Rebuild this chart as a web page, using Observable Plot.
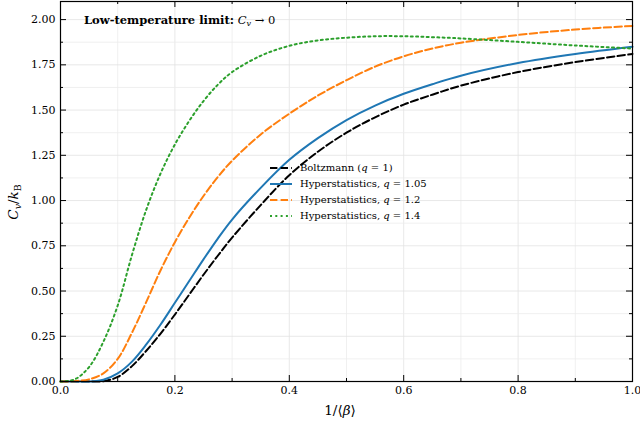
<!DOCTYPE html>
<html><head><meta charset="utf-8">
<script src="https://cdn.jsdelivr.net/npm/d3@7"></script>
<script src="https://cdn.jsdelivr.net/npm/@observablehq/plot@0.6"></script>
<style>
body{margin:0;background:#fff;}
#wrap{position:relative;width:640px;height:428px;font-family:"DejaVu Serif",serif;color:#000;}
#wrap svg text{font-family:"DejaVu Serif",serif;}
.ov{position:absolute;white-space:nowrap;line-height:1;}
#title{left:84px;top:15px;font-size:11.5px;}
#title b{font-weight:bold;}
#ylab{left:14px;top:202px;font-size:13.5px;transform:translate(-50%,-50%) rotate(-90deg);}
#xlab{left:340px;top:411px;font-size:13.5px;transform:translate(-50%,-50%);}
#legend{left:268px;top:160px;font-size:10px;}
.row{display:flex;align-items:center;height:16px;}
.row svg{margin-right:7px;}
sub{font-size:70%;vertical-align:-0.25em;line-height:0;}
</style></head><body><div id="wrap"></div>
<script>
// temperature grid 1/<beta>
const xs = [0, 0.025, 0.05, 0.075, 0.1, 0.125, 0.15, 0.175, 0.2, 0.225, 0.25, 0.275, 0.3, 0.35, 0.4, 0.45, 0.5, 0.55, 0.6, 0.65, 0.7, 0.8, 0.9, 1.0];
const boltzmann = [0, 0, 0, 0.002, 0.025, 0.085, 0.17, 0.265, 0.37, 0.48, 0.59, 0.695, 0.795, 0.975, 1.14, 1.27, 1.375, 1.46, 1.53, 1.585, 1.635, 1.71, 1.765, 1.81];
const hyper105  = [0, 0, 0, 0.01, 0.045, 0.11, 0.205, 0.315, 0.435, 0.555, 0.675, 0.79, 0.895, 1.07, 1.225, 1.345, 1.445, 1.525, 1.59, 1.643, 1.69, 1.76, 1.81, 1.85];
const hyper12   = [0, 0.002, 0.012, 0.045, 0.125, 0.27, 0.44, 0.615, 0.77, 0.905, 1.025, 1.13, 1.22, 1.365, 1.48, 1.58, 1.665, 1.74, 1.797, 1.84, 1.872, 1.915, 1.945, 1.965];
const hyper14   = [0, 0.012, 0.08, 0.22, 0.42, 0.70, 0.95, 1.15, 1.31, 1.44, 1.55, 1.64, 1.71, 1.80, 1.855, 1.885, 1.90, 1.908, 1.908, 1.903, 1.896, 1.877, 1.857, 1.84];

const seriesNames = ["Boltzmann (q = 1)", "Hyperstatistics, q = 1.05", "Hyperstatistics, q = 1.2", "Hyperstatistics, q = 1.4"];
const seriesValues = [boltzmann, hyper105, hyper12, hyper14];
const seriesColors = ["#000000", "#1f77b4", "#ff7f0e", "#2ca02c"];
const seriesDash = ["7.4,3.2", null, "7.4,3.2", "2,3.3"];

const xMajor = [0, 0.2, 0.4, 0.6, 0.8, 1.0];
const xMinor = [0.1, 0.3, 0.5, 0.7, 0.9];
const yMajor = [0, 0.25, 0.5, 0.75, 1.0, 1.25, 1.5, 1.75, 2.0];
const yMinor = [0.125, 0.375, 0.625, 0.875, 1.125, 1.375, 1.625, 1.875];

const W = 640, H = 428, mL = 60, mR = 8, mT = 1, mB = 47;
const pw = W - mL - mR, ph = H - mT - mB;
const serif = '"DejaVu Serif", serif';

const lineMarks = seriesValues.map((vals, i) => {
  const rows = xs.map((x, j) => ({x, y: vals[j]}));
  return Plot.line(rows, {x: "x", y: "y", stroke: seriesColors[i], strokeWidth: 2,
    strokeDasharray: seriesDash[i] || undefined, curve: "catmull-rom"});
});
const chart = Plot.plot({
  width: W, height: H, marginLeft: mL, marginRight: mR, marginTop: mT, marginBottom: mB,
  style: {fontFamily: serif, fontSize: "11px", background: "white", color: "black"},
  x: {domain: [0, 1]},
  y: {domain: [0, 2.1]},
  marks: [
    Plot.ruleX(xMinor, {x: d => d, stroke: "#ececec", strokeWidth: 0.8}),
    Plot.ruleX(xMajor, {x: d => d, stroke: "#e2e2e2", strokeWidth: 0.8}),
    Plot.ruleY(yMinor, {y: d => d, stroke: "#ececec", strokeWidth: 0.8}),
    Plot.ruleY(yMajor, {y: d => d, stroke: "#e2e2e2", strokeWidth: 0.8}),
    ...lineMarks,
    Plot.tickX(xMajor, {x: d => d, insetTop: ph - 6, stroke: "black"}),
    Plot.tickX(xMajor, {x: d => d, insetBottom: ph - 6, stroke: "black"}),
    Plot.tickX(xMinor, {x: d => d, insetTop: ph - 3, stroke: "black"}),
    Plot.tickX(xMinor, {x: d => d, insetBottom: ph - 3, stroke: "black"}),
    Plot.tickY(yMajor, {y: d => d, insetRight: pw - 6, stroke: "black"}),
    Plot.tickY(yMajor, {y: d => d, insetLeft: pw - 6, stroke: "black"}),
    Plot.tickY(yMinor, {y: d => d, insetRight: pw - 3, stroke: "black"}),
    Plot.tickY(yMinor, {y: d => d, insetLeft: pw - 3, stroke: "black"}),
    Plot.axisX(xMajor, {tickSize: 0, tickPadding: 5, tickFormat: d3.format(".1f"), label: null, fontSize: 11, fontFamily: serif}),
    Plot.axisY(yMajor, {tickSize: 0, tickPadding: 5, tickFormat: d3.format(".2f"), label: null, fontSize: 11, fontFamily: serif}),
    Plot.frame({stroke: "black", strokeWidth: 1.2})
  ]
});
const wrap = document.getElementById("wrap");
wrap.appendChild(chart);

function ov(id, html) {
  const d = document.createElement("div");
  d.className = "ov"; d.id = id; d.innerHTML = html;
  wrap.appendChild(d);
  return d;
}
ov("title", "<b>Low-temperature limit:</b> <i>C</i><sub><i>v</i></sub> → 0");
ov("ylab", "<i>C</i><sub><i>v</i></sub>/<i>k</i><sub>B</sub>");
ov("xlab", "1/⟨<i>β</i>⟩");

const legendLabels = [
  "Boltzmann (<i>q</i> = 1)",
  "Hyperstatistics, <i>q</i> = 1.05",
  "Hyperstatistics, <i>q</i> = 1.2",
  "Hyperstatistics, <i>q</i> = 1.4"
];
const lg = ov("legend", "");
seriesNames.forEach((n, i) => {
  const r = document.createElement("div");
  r.className = "row";
  const dash = seriesDash[i] ? `stroke-dasharray="${seriesDash[i]}"` : "";
  r.innerHTML = `<svg width="25" height="16"><line x1="2" x2="24" y1="8" y2="8" stroke="${seriesColors[i]}" stroke-width="2" ${dash}/></svg><span>${legendLabels[i]}</span>`;
  lg.appendChild(r);
});
</script>
</body></html>
